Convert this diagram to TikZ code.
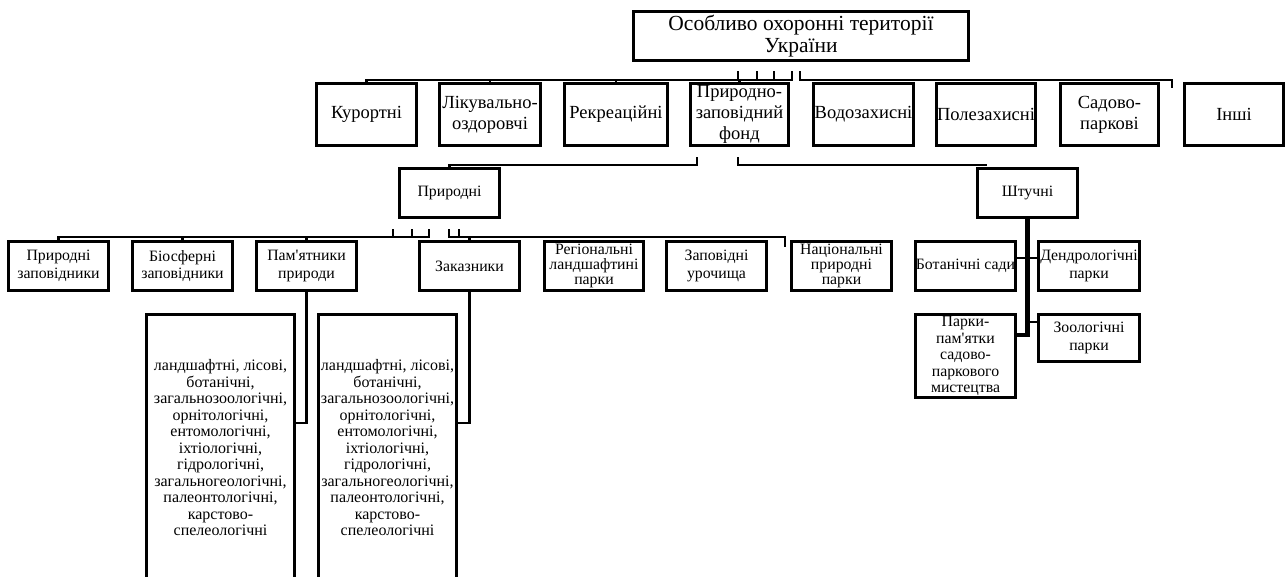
\documentclass[tikz,border=0pt]{standalone}
\usepackage{fontspec}
\setmainfont{Liberation Serif}[Ligatures=TeXOff]
\begin{document}
\begin{tikzpicture}[x=1pt,y=-1pt,
  box/.style={draw, line width=2.9pt, inner sep=0pt, align=center,
    minimum width=100.5pt, minimum height=49.4pt,
    font=\fontsize{15.8}{17.5}\selectfont},
  rowone/.style={box, minimum height=61.4pt, font=\fontsize{18.5}{21}\selectfont},
  three/.style={font=\fontsize{15.8}{15}\selectfont},
  tall/.style={box, minimum height=267.4pt, font=\fontsize{16}{16.5}\selectfont},
  conn/.style={line width=2.6pt},
  thickconn/.style={line width=4.5pt}]
\useasboundingbox (0,0) rectangle (1285,576);
\fill[white] (0,0) rectangle (1285,576);
\clip (0,0) rectangle (1285,576);

% top
\node[box, minimum width=335pt, minimum height=49pt, font=\fontsize{21.5}{21.7}\selectfont]
  (top) at (801,36) {Особливо охоронні території\\України};

% row one
\node[rowone] (kur) at (366.5,114.5) {Курортні};
\node[rowone, minimum width=101.4pt] (lik) at (490,114.5) {Лікувально-\\оздоровчі};
\node[rowone, minimum width=102.4pt] (rek) at (616,114.5) {Рекреаційні};
\node[rowone, minimum width=98.4pt] (pzf) at (739.5,114.5) {Природно-\\заповідний\\фонд};
\node[rowone] (vod) at (863.5,114.5) {Водозахисні};
\node[rowone, minimum width=99.4pt] (pol) at (986,114.5) {Полезахисні};
\node[rowone, minimum width=98.4pt] (sad) at (1109.5,114.5) {Садово-\\паркові};
\node[rowone, minimum width=99.4pt] (insh) at (1234,114.5) {Інші};

% row two
\node[box] (pri) at (449.5,193) {Природні};
\node[box] (sht) at (1027.5,193) {Штучні};

% row three
\node[box] (pz) at (58.5,266) {Природні\\заповідники};
\node[box] (bio) at (182.5,266) {Біосферні\\заповідники};
\node[box] (pam) at (306.5,266) {Пам'ятники\\природи};
\node[box] (zak) at (469.5,266) {Заказники};
\node[box, three, minimum width=99.4pt] (reg) at (594,266) {Регіональні\\ландшафтині\\парки};
\node[box] (zapur) at (716.5,266) {Заповідні\\урочища};
\node[box, three] (nat) at (841.5,266) {Національні\\природні\\парки};
\node[box] (bot) at (965.5,266) {Ботанічні сади};
\node[box, minimum width=101.4pt] (den) at (1089,266) {Дендрологічні\\парки};
\node[box, minimum height=83.4pt, font=\fontsize{15.8}{16.5}\selectfont]
  (park) at (965.5,356) {Парки-\\пам'ятки\\садово-\\паркового\\мистецтва};
\node[box, minimum width=101.4pt, minimum height=47.4pt] (zoo) at (1089,338) {Зоологічні\\парки};

% tall boxes
\node[tall, minimum width=148.4pt] (tl) at (220.5,448) {ландшафтні, лісові,\\ботанічні,\\загальнозоологічні,\\орнітологічні,\\ентомологічні,\\іхтіологічні,\\гідрологічні,\\загальногеологічні,\\палеонтологічні,\\карстово-\\спелеологічні};
\node[tall, minimum width=138.4pt] (tr) at (387.5,448) {ландшафтні, лісові,\\ботанічні,\\загальнозоологічні,\\орнітологічні,\\ентомологічні,\\іхтіологічні,\\гідрологічні,\\загальногеологічні,\\палеонтологічні,\\карстово-\\спелеологічні};

% connectors: top level
\draw[conn] (738,71) -- (738,80) -| (kur.north);
\draw[conn] (757,71) -- (757,80) -| (lik.north);
\draw[conn] (774,71) -- (774,80) -| (rek.north);
\draw[conn] (792,71) -- (792,80) -| (pzf.north);
\coordinate (rend) at (1172,88);
\draw[conn] (800,71) -- (800,80) -| (rend);

% second level
\draw[conn] (697,157) -- (697,165) -| (pri.north);
\coordinate (send) at (987,165);
\draw[conn] (738,157) -- (738,165) -- (send);

% third level
\draw[conn] (393,229) -- (393,237) -| (pz.north);
\draw[conn] (412,229) -- (412,237) -| (bio.north);
\draw[conn] (429,229) -- (429,237) -| (pam.north);
\draw[conn] (449,229) -- (449,237) -| (zak.north);
\coordinate (tend) at (785,247);
\draw[conn] (459,229) -- (459,237) -| (tend);

\draw[conn] (pam.south) |- (tl.east |- 0,423);
\draw[conn] (zak.south) |- (tr.east |- 0,423);

% artificial
\draw[thickconn] (sht.south) |- (park.east |- 0,335);
\draw[conn] (bot.east |- 0,258) -- (den.west |- 0,258);
\draw[conn] (sht.south |- 0,322) -- (zoo.west |- 0,322);
\end{tikzpicture}
\end{document}
